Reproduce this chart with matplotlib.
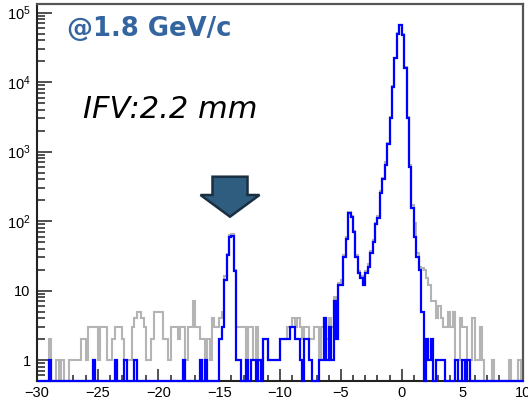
import numpy as np
import matplotlib
matplotlib.use("Agg")
import matplotlib.pyplot as plt
from matplotlib.ticker import FixedLocator, FixedFormatter, LogLocator, NullFormatter, MultipleLocator
from matplotlib.patches import Polygon

plt.rcParams['font.family'] = ['Liberation Sans', 'DejaVu Sans']
plt.rcParams['mathtext.fontset'] = 'custom'
plt.rcParams['mathtext.rm'] = 'Liberation Sans'

# Histogram binning (0.2 wide bins from -30 to 10)
x_lo, x_hi, n_bins = -30.0, 10.0, 200

# All events (grey)
counts_all = [
    0, 0, 0, 0, 0, 2, 0, 0, 1, 0,
    1, 0, 0, 1, 1, 1, 1, 1, 2, 2,
    1, 3, 3, 3, 3, 1, 3, 3, 3, 1,
    1, 2, 3, 3, 3, 2, 1, 1, 1, 3,
    4, 5, 5, 4, 3, 1, 1, 2, 5, 5,
    5, 5, 2, 2, 1, 3, 3, 3, 2, 3,
    3, 1, 3, 3, 7, 3, 3, 2, 2, 1,
    2, 1, 4, 3, 3, 4, 5, 16, 34, 64,
    66, 20, 3, 3, 3, 3, 1, 3, 3, 1,
    3, 1, 1, 2, 2, 1, 1, 1, 1, 1,
    2, 2, 2, 3, 3, 4, 3, 4, 3, 2,
    3, 3, 2, 2, 3, 3, 1, 3, 4, 2,
    4, 3, 8, 3, 13, 14, 32, 60, 135, 120,
    72, 32, 19, 16, 13, 19, 24, 37, 54, 95,
    120, 270, 420, 700, 1350, 3100, 8700, 22500, 51000, 67000,
    49000, 16500, 3100, 640, 170, 94, 35, 22, 21, 20,
    15, 12, 7, 7, 4, 6, 4, 3, 3, 5,
    3, 5, 1, 1, 4, 3, 3, 1, 1, 4,
    1, 1, 3, 1, 0, 0, 0, 1, 0, 0,
    0, 0, 0, 0, 1, 0, 0, 0, 1, 0,
]

# Selected events (blue)
counts_sel = [
    0, 0, 0, 0, 0, 1, 0, 0, 0, 0,
    0, 0, 0, 0, 0, 0, 0, 0, 0, 0,
    0, 0, 0, 1, 0, 0, 0, 0, 0, 0,
    0, 0, 1, 0, 0, 0, 1, 0, 0, 0,
    1, 0, 0, 0, 0, 0, 0, 0, 0, 0,
    0, 0, 0, 0, 0, 0, 0, 0, 0, 0,
    1, 0, 0, 0, 0, 0, 0, 1, 0, 1,
    0, 0, 0, 0, 0, 2, 3, 14, 32, 60,
    62, 19, 1, 1, 0, 0, 1, 0, 1, 1,
    0, 1, 0, 2, 2, 1, 1, 1, 1, 1,
    2, 2, 2, 2, 3, 3, 2, 2, 1, 0,
    2, 2, 1, 0, 0, 0, 1, 1, 4, 1,
    3, 1, 7, 2, 12, 12, 30, 55, 130, 115,
    70, 30, 18, 15, 12, 18, 22, 35, 50, 90,
    110, 250, 400, 650, 1300, 3000, 8500, 22000, 50000, 66000,
    48000, 16000, 3000, 600, 155, 60, 30, 20, 5, 0,
    2, 1, 2, 0, 1, 1, 1, 1, 0, 0,
    0, 0, 1, 0, 0, 1, 0, 1, 0, 0,
    0, 0, 0, 0, 0, 0, 0, 0, 0, 0,
    0, 0, 0, 0, 0, 0, 0, 0, 0, 0,
]

y_lo, y_hi = 0.5, 1.33e5
y_major = [1, 10, 1e2, 1e3, 1e4, 1e5]
y_major_labels = ['1', '10', r'$\mathregular{10^{2}}$', r'$\mathregular{10^{3}}$',
                  r'$\mathregular{10^{4}}$', r'$\mathregular{10^{5}}$']

edges = np.linspace(x_lo, x_hi, n_bins + 1)
all_arr = np.array(counts_all, dtype=float)
sel_arr = np.array(counts_sel, dtype=float)
# empty bins sit on the lower frame edge, like ROOT does on a log axis
all_draw = np.where(all_arr > 0, all_arr, y_lo)
sel_draw = np.where(sel_arr > 0, sel_arr, y_lo)

fig = plt.figure(figsize=(5.28, 4.05), dpi=100)
W, H = 528.0, 405.0
ax = fig.add_axes([36.9 / W, 1 - 381 / H, (523.3 - 36.9) / W, (381 - 4) / H])

ax.stairs(all_draw, edges, baseline=None, color='#b4b4b4', lw=1.5, zorder=3, clip_on=False)
ax.stairs(sel_draw, edges, baseline=None, color='#0000ff', lw=1.6, zorder=4, clip_on=False)

ax.set_yscale('log')
ax.set_xlim(x_lo, x_hi)
ax.set_ylim(y_lo, y_hi)

ax.xaxis.set_major_locator(MultipleLocator(5))
ax.xaxis.set_minor_locator(MultipleLocator(1))
ax.yaxis.set_major_locator(FixedLocator(y_major))
ax.yaxis.set_major_formatter(FixedFormatter(y_major_labels))
ax.yaxis.set_minor_locator(LogLocator(base=10, subs=np.arange(2, 10), numticks=30))
ax.yaxis.set_minor_formatter(NullFormatter())

ax.tick_params(axis='both', which='both', direction='in', top=False, right=False,
               width=1.1, color='#222222', labelsize=10.5)
ax.tick_params(axis='x', which='major', length=8.6, pad=3.5)
ax.tick_params(axis='x', which='minor', length=4.0)
ax.tick_params(axis='y', which='major', length=10.8, pad=4.5)
ax.tick_params(axis='y', which='minor', length=5.8)

for side in ['left', 'bottom']:
    ax.spines[side].set_linewidth(1.5)
    ax.spines[side].set_color('#222222')
for side in ['top', 'right']:
    ax.spines[side].set_linewidth(1.6)
    ax.spines[side].set_color('#555555')

# labels
fig.text(66.7 / W, 1 - 36 / H, '@1.8 GeV/c', fontsize=18.6, fontweight='bold',
         color='#34659f', family=['DejaVu Sans'], va='baseline', ha='left')
fig.text(83 / W, 1 - 118 / H, 'IFV:2.2 mm', fontsize=22, style='italic',
         color='black', family=['DejaVu Sans'], va='baseline', ha='left')

# block arrow pointing at the peak
arrow_px = [(212.5, 176.7), (247.5, 176.7), (247.5, 195), (259.5, 195),
            (230, 216.7), (200.5, 195), (212.5, 195)]
arrow_xy = [(px / W, 1 - py / H) for px, py in arrow_px]
fig.patches.append(Polygon(arrow_xy, closed=True, transform=fig.transFigure,
                           facecolor='#2f5d80', edgecolor='#1b2f42', lw=1.8))

fig.savefig('out.png', dpi=100)
